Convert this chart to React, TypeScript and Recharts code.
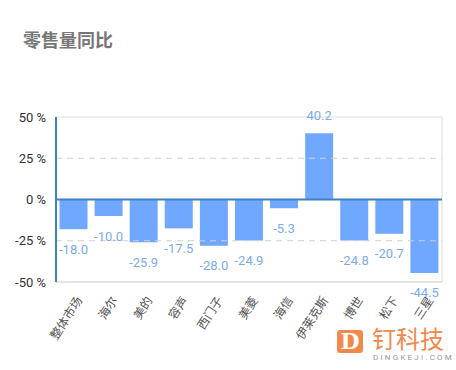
import React from "react";
import {
  Bar,
  BarChart,
  LabelList,
  ReferenceArea,
  ReferenceLine,
  XAxis,
  YAxis,
} from "recharts";

const brands = ["整体市场", "海尔", "美的", "容声", "西门子", "美菱", "海信", "伊莱克斯", "博世", "松下", "三星"];
const yoy = [-18.0, -10.0, -25.9, -17.5, -28.0, -24.9, -5.3, 40.2, -24.8, -20.7, -44.5];
const yTicks = [-50, -25, 0, 25, 50];

const data = brands.map((name, i) => ({ name, value: yoy[i] }));

const FONT = "Roboto, 'Noto Sans CJK SC', sans-serif";

function XTick(props: any) {
  const { x, y, payload } = props;
  return (
    <g transform={`translate(${x + 6},${y + 8})`}>
      <text
        transform="rotate(-57)"
        textAnchor="end"
        dominantBaseline="central"
        fontSize={12}
        fill="#555"
        fontFamily={FONT}
      >
        {payload.value}
      </text>
    </g>
  );
}

function ValueLabel(props: any) {
  const { x, y, width, height, value } = props;
  const top = Math.min(y, y + height);
  const bottom = Math.max(y, y + height);
  const cy = value >= 0 ? top - 18 : bottom + 20;
  return (
    <text
      x={x + width / 2}
      y={cy}
      textAnchor="middle"
      dominantBaseline="central"
      fontSize={13}
      fill="#7aabec"
      fontFamily={FONT}
    >
      {value.toFixed(1)}
    </text>
  );
}

export default function App() {
  return (
    <div style={{ position: "fixed", left: 0, top: 0, width: 456, height: 370, background: "#fff", fontFamily: FONT }}>
      <div style={{ position: "absolute", left: 23, top: 26, fontSize: 18, fontWeight: 700, color: "#777" }}>
        零售量同比
      </div>
      <BarChart
        width={456}
        height={370}
        data={data}
        margin={{ top: 117, right: 14, bottom: 0, left: 0 }}
        barCategoryGap="10%"
      >
        <ReferenceArea y1={-50} y2={50} fill="none" stroke="#dcdcdc" strokeWidth={1} />
        <ReferenceLine y={25} stroke="#d0d0d0" strokeDasharray="6 5" />
        <ReferenceLine y={-25} stroke="#d0d0d0" strokeDasharray="6 5" />
        <XAxis
          dataKey="name"
          interval={0}
          tickLine={false}
          axisLine={{ stroke: "#dcdcdc" }}
          tick={<XTick />}
          height={88}
        />
        <YAxis
          domain={[-50, 50]}
          ticks={yTicks}
          interval={0}
          width={56}
          tickLine={false}
          tickSize={0}
          tickMargin={10}
          axisLine={{ stroke: "#3d82c4", strokeWidth: 2 }}
          tick={{ fontSize: 13, fill: "#333", fontFamily: FONT }}
          tickFormatter={(v: number) => `${v} %`}
        />
        <Bar dataKey="value" fill="#70a8ff" isAnimationActive={false}>
          <LabelList dataKey="value" content={<ValueLabel />} />
        </Bar>
        <ReferenceLine y={0} stroke="#3d82c4" strokeWidth={2} />
      </BarChart>
      <div style={{ position: "absolute", left: 337, top: 330, width: 26, height: 23, background: "#ef8a4c", borderRadius: 3, color: "#fff", fontWeight: 900, fontSize: 22, lineHeight: "23px", textAlign: "center", fontFamily: "'DejaVu Serif', serif" }}>
        D
      </div>
      <div style={{ position: "absolute", left: 372, top: 326, fontSize: 24, color: "#ef8a4c", lineHeight: "28px", letterSpacing: 0 }}>
        钉科技
      </div>
      <div style={{ position: "absolute", left: 373, top: 353, fontSize: 8, color: "#999", letterSpacing: 2.2 }}>
        DINGKEJI.COM
      </div>
    </div>
  );
}
